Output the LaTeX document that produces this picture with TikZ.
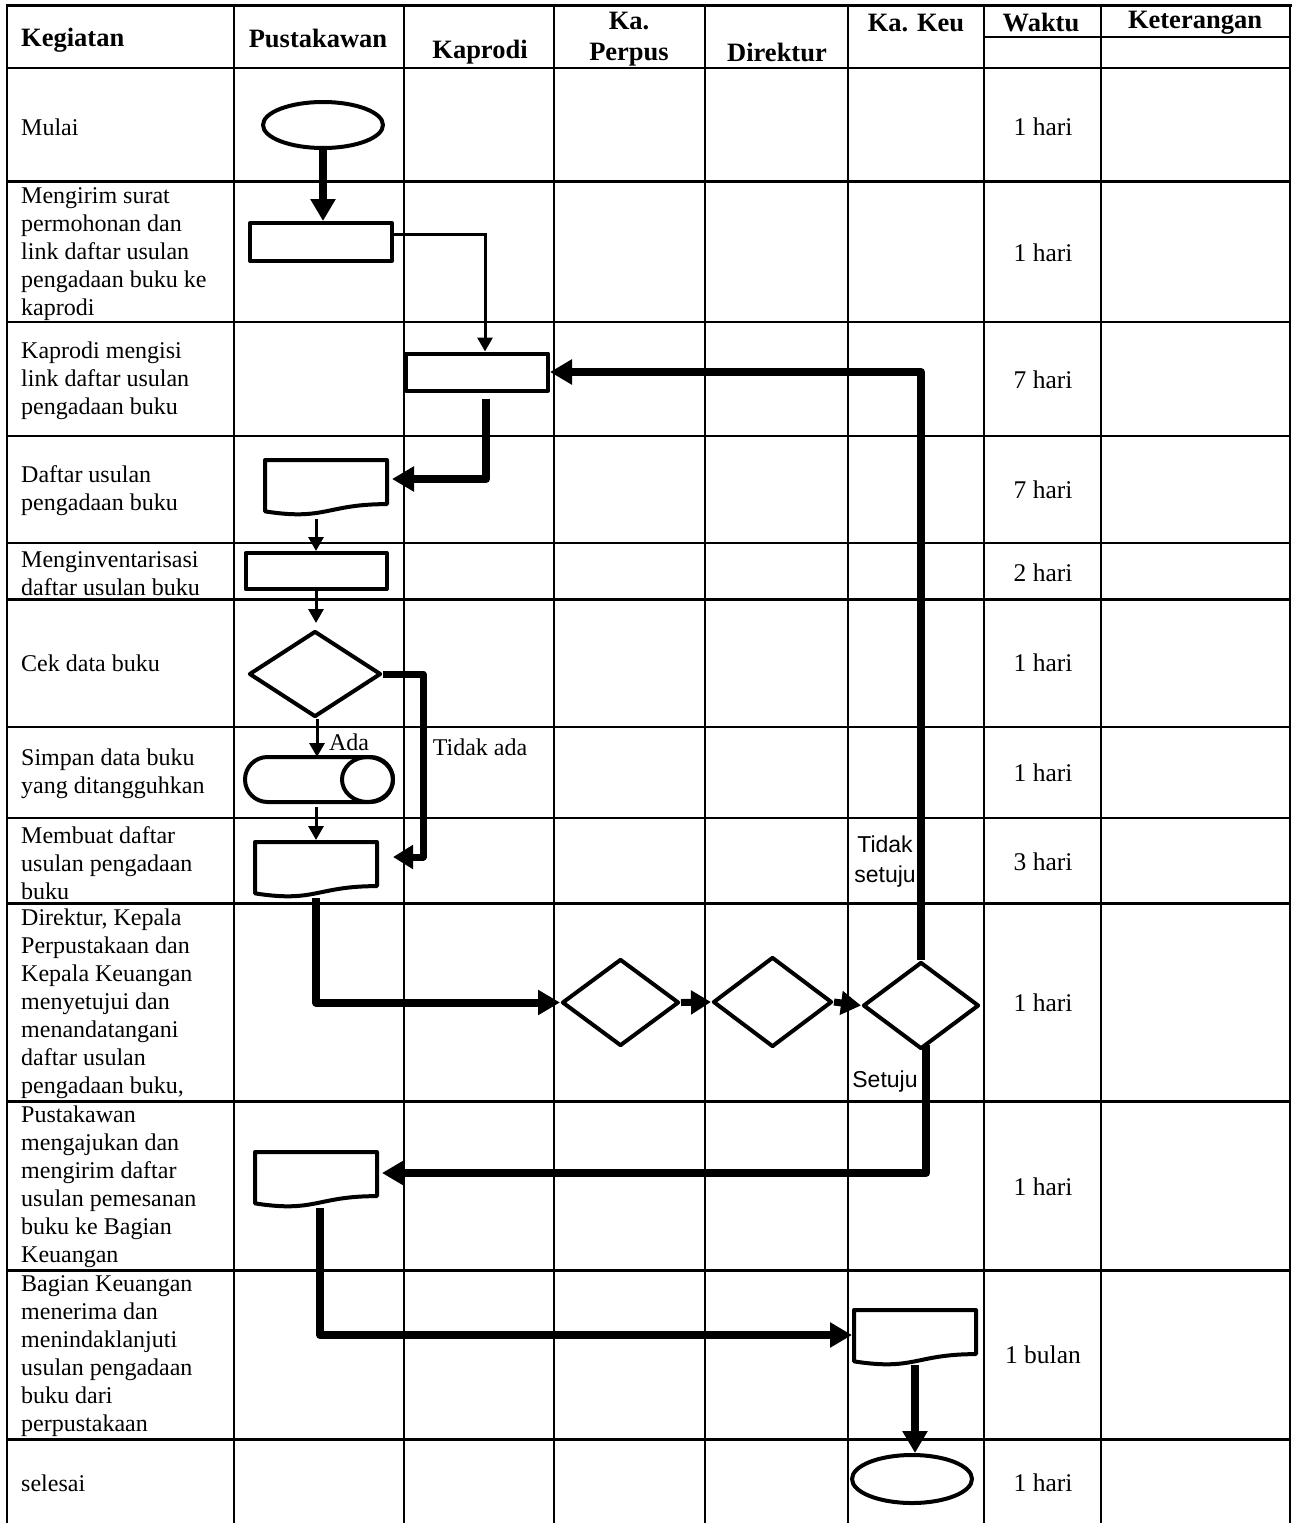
\documentclass[tikz,border=0pt]{standalone}
\usepackage{fontspec}
\setmainfont{Liberation Serif}
\newfontfamily\arialf{Liberation Sans}
\usetikzlibrary{shapes.geometric,arrows.meta,calc}

\newcommand\flowdoc[1]{%
  \draw[shp] (#1.north west) -- (#1.north east)
    -- ($(#1.north east)!0.802!(#1.south east)$)
    .. controls ($(#1.north)!0.802!(#1.south)$) and ($(#1.north)!1.107!(#1.south)$)
    .. ($(#1.north west)!0.934!(#1.south west)$) -- cycle;}

\tikzset{
  gridline/.style={line width=2.3pt, line cap=rect},
  shp/.style={draw, line width=4pt, line join=round},
  proc/.style={shp, rectangle, inner sep=0pt},
  term/.style={shp, ellipse, inner sep=0pt, minimum width=120pt, minimum height=46pt},
  dec/.style={shp, diamond, inner sep=0pt},
  docbox/.style={rectangle, inner sep=0pt, outer sep=0pt, minimum width=122pt, minimum height=55pt},
  cylbox/.style={rectangle, inner sep=0pt, outer sep=0pt, minimum width=148pt, minimum height=45pt},
  thinarr/.style={line width=3pt, line join=miter, -{Triangle[width=15pt,length=14pt]}},
  thickarr/.style={line width=8pt, line join=round, -{Triangle[width=24pt,length=22pt]}},
  midarr/.style={line width=7pt, line join=round, -{Triangle[width=23pt,length=20pt]}},
  txt/.style={font=\fontsize{24}{28}\selectfont, inner sep=0pt},
  waktu/.style={font=\fontsize{25.5}{28}\selectfont, inner sep=0pt},
  keg/.style={txt, anchor=west, align=left},
  hdr/.style={font=\bfseries\fontsize{26.5}{31}\selectfont, inner sep=0pt, align=center},
  sanslbl/.style={font=\arialf\fontsize{23}{30}\selectfont, inner sep=0pt, align=center}
}

\begin{document}
\begin{tikzpicture}[x=1pt,y=-1pt]
\useasboundingbox (0,0) rectangle (1293,1523);

% table
\draw[gridline, line width=3pt] (7,5) -- (1290,5);
\foreach \yy in {68,181.5,322,436,543,599.5,727,818,903.5,1101.5,1270.5,1439.5}
  \draw[gridline] (7,\yy) -- (1290,\yy);
\draw[gridline] (984,37) -- (1290,37);
\foreach \xx in {7,234,404,554,705,848,984,1101,1290}
  \draw[gridline] (\xx,5) -- (\xx,1530);

% header
\node[hdr, anchor=west] (hKeg) at (21,40) {Kegiatan};
\node[hdr] (hPus) at (318,38) {Pustakawan};
\node[hdr] (hKap) at (480,52) {Kaprodi};
\node[hdr] (hPer) at (629,39) {Ka.\\Perpus};
\node[hdr] (hDir) at (777,52) {Direktur};
\node[hdr] (hKeu) at (916,23) {Ka. Keu};
\node[hdr] (hWak) at (1041,23) {Waktu};
\node[hdr] (hKet) at (1195,23) {Keterangan};

% Kegiatan column
\node[keg] (k1) at (21,127) {Mulai};
\node[keg] (k2) at (21,254) {Mengirim surat\\permohonan dan\\link daftar usulan\\pengadaan buku ke\\kaprodi};
\node[keg] (k3) at (21,381) {Kaprodi mengisi\\link daftar usulan\\pengadaan buku};
\node[keg] (k4) at (21,491) {Daftar usulan\\pengadaan buku};
\node[keg] (k5) at (21,574) {Menginventarisasi\\daftar usulan buku};
\node[keg] (k6) at (21,663) {Cek data buku};
\node[keg] (k7) at (21,774) {Simpan data buku\\yang ditangguhkan};
\node[keg] (k8) at (21,863) {Membuat daftar\\usulan pengadaan\\buku};
\node[keg] (k9) at (21,1004) {Direktur, Kepala\\Perpustakaan dan\\Kepala Keuangan\\menyetujui dan\\menandatangani\\daftar usulan\\pengadaan buku,};
\node[keg] (k10) at (21,1187) {Pustakawan\\mengajukan dan\\mengirim daftar\\usulan pemesanan\\buku ke Bagian\\Keuangan};
\node[keg] (k11) at (21,1356) {Bagian Keuangan\\menerima dan\\menindaklanjuti\\usulan pengadaan\\buku dari\\perpustakaan};
\node[keg] (k12) at (21,1483) {selesai};

% Waktu column
\foreach \yy/\tt [count=\i] in {127/1 hari,253/1 hari,380/7 hari,490/7 hari,573/2 hari,663/1 hari,773/1 hari,862/3 hari,1003/1 hari,1187/1 hari,1355/1 bulan,1483/1 hari}
  \node[waktu] (w\i) at (1043,\yy) {\tt};

% shapes
\node[term] (s) at (323,125) {};
\node[proc, minimum width=142pt, minimum height=38pt] (r1) at (321,242) {};
\node[proc, minimum width=142pt, minimum height=37pt] (r2) at (477,372) {};
\node[docbox] (doc1) at (326,487.5) {};
\flowdoc{doc1}
\node[proc, minimum width=141pt, minimum height=36pt] (r3) at (316,571) {};
\node[dec, minimum width=132pt, minimum height=86pt] (d1) at (315,674) {};
\node[cylbox] (cyl) at (319,779.5) {};
\draw[shp, rounded corners=22.5pt] (cyl.south west) rectangle (cyl.north east);
\draw[shp] ($(cyl.east)+(-25.5,0)$) ellipse [x radius=25.5pt, y radius=22.5pt];
\node[docbox] (doc2) at (316,869.5) {};
\flowdoc{doc2}
\node[dec, minimum width=117pt, minimum height=87pt] (d2) at (620.5,1002.5) {};
\node[dec, minimum width=119pt, minimum height=90pt] (d3) at (772.5,1002) {};
\node[dec, minimum width=116pt, minimum height=87pt] (d4) at (921,1005.5) {};
\node[docbox] (doc3) at (316,1179.5) {};
\flowdoc{doc3}
\node[docbox] (doc4) at (915,1337.5) {};
\flowdoc{doc4}
\node[term, minimum height=48pt] (e) at (912,1479) {};

% connectors
\draw[thickarr] (s.south) -- (s.south |- r1.north);
\draw[thinarr] ($(r1.east)+(0,-8)$) -| ($(r2.north)+(8,0)$);
\draw[thickarr] ($(r2.south)+(9,6)$) |- ($(doc1.east)+(5,-8.5)$);
\draw[thinarr] ($(doc1.south -| r3.north)+(0,4)$) -- (r3.north);
\draw[thinarr] (r3.south) -- ($(r3.south |- d1.north)+(0,-6)$);
\draw[midarr] (d1.east) -- ++(40,0) |- ($(doc2.east)+(16,-12.5)$);
\draw[thinarr] ($(d1.south)+(2,0)$) -- ($(cyl.north)+(-2,0)$);
\draw[thinarr, shorten >=2pt] ($(cyl.south -| doc2.north)+(0,5)$) -- (doc2.north);
\draw[thickarr] ($(doc2.south)+(0,1)$) |- (d2.west);
\draw[midarr] (d2.east) -- (d3.west);
\draw[midarr] (d3.east) -- (d4.west);
\draw[thickarr] (d4.north) |- (r2.east);
\draw[thickarr] ($(d4.south)+(5,-6)$) |- ($(doc3.east)+(5,-6.5)$);
\draw[thickarr] ($(doc3.south)+(4,1)$) |- ($(doc4.west)+(-2,-2.5)$);
\draw[thickarr] (doc4.south) -- (doc4.south |- e.north);

% labels
\node[txt] (lta) at (480,747) {Tidak ada};
\node[txt] (lada) at (349,742) {Ada};
\node[sanslbl] (lts) at (885,862) {Tidak\\setuju};
\node[sanslbl] (lst) at (885,1082) {Setuju};
\end{tikzpicture}
\end{document}
